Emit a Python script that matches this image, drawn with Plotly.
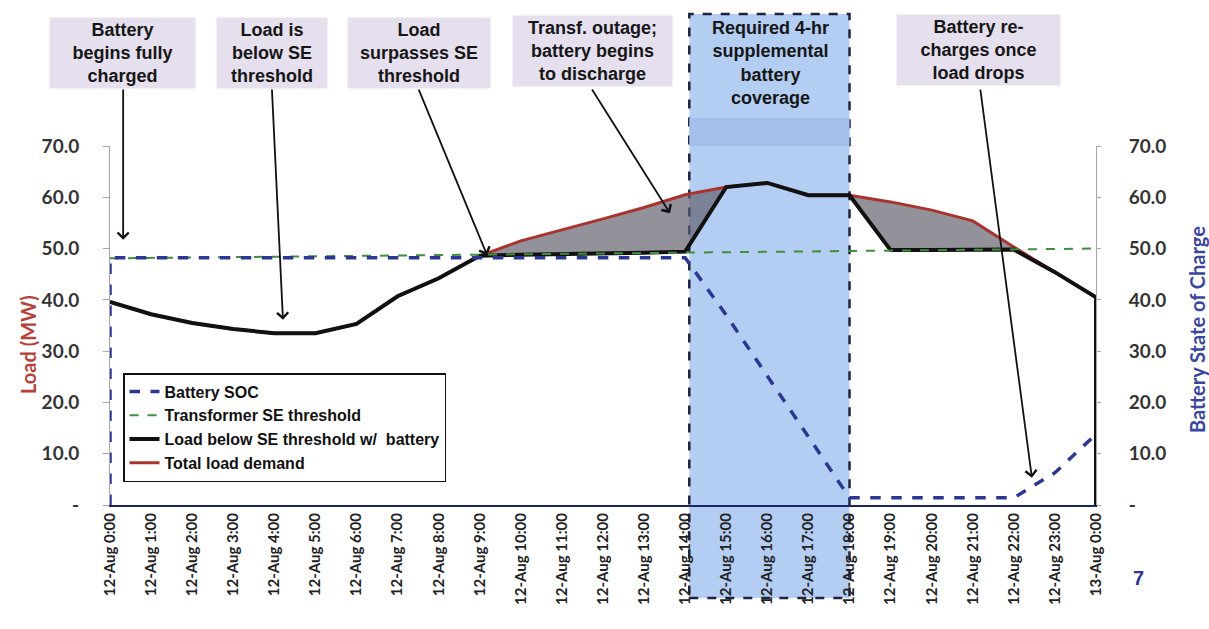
import plotly.graph_objects as go

# ---- data -------------------------------------------------------------
hours = list(range(25))
tick_labels = [
    "12-Aug 0:00", "12-Aug 1:00", "12-Aug 2:00", "12-Aug 3:00", "12-Aug 4:00",
    "12-Aug 5:00", "12-Aug 6:00", "12-Aug 7:00", "12-Aug 8:00", "12-Aug 9:00",
    "12-Aug 10:00", "12-Aug 11:00", "12-Aug 12:00", "12-Aug 13:00", "12-Aug 14:00",
    "12-Aug 15:00", "12-Aug 16:00", "12-Aug 17:00", "12-Aug 18:00", "12-Aug 19:00",
    "12-Aug 20:00", "12-Aug 21:00", "12-Aug 22:00", "12-Aug 23:00", "13-Aug 0:00",
]
total_load_mw = [39.6, 37.2, 35.5, 34.3, 33.5, 33.5, 35.3, 40.7, 44.2, 48.6,
                 51.5, 53.6, 55.8, 58.0, 60.5, 62.0, 62.8, 60.4, 60.4, 59.1,
                 57.5, 55.4, 50.3, 45.4, 40.5]
load_with_battery_mw = [39.6, 37.2, 35.5, 34.3, 33.5, 33.5, 35.3, 40.7, 44.2, 48.6,
                        48.8, 48.9, 49.0, 49.2, 49.4, 62.0, 62.8, 60.4, 60.4, 49.7,
                        49.7, 49.8, 49.8, 45.4, 40.5]
battery_soc = [48.2, 48.2, 48.2, 48.2, 48.2, 48.2, 48.2, 48.2, 48.2, 48.2,
               48.2, 48.2, 48.2, 48.2, 48.2, 37.0, 25.0, 13.3, 1.4, 1.4,
               1.4, 1.4, 1.4, 6.3, 13.8]
threshold_hours = [0, 24]
threshold_mw = [48.1, 50.0]
y_ticks = [0, 10, 20, 30, 40, 50, 60, 70]
y_tick_labels = ["-", "10.0", "20.0", "30.0", "40.0", "50.0", "60.0", "70.0"]
coverage_window = [14.1, 18.0]

# ---- styling ----------------------------------------------------------
RED = "#a9332e"
BLACK = "#111111"
GREEN = "#3f8f3c"
NAVY = "#2c3794"
FILL = "rgba(96,94,108,0.68)"
BOX = "#e6dfee"
TXT = "Liberation Sans"
NUM = "Lato"

# plot area in page pixels, used to place labels and callouts
PL, PR, PT, PB = 110, 1096, 146, 505


def px(xp):
    return (xp - PL) / (PR - PL)


def py(yp):
    return (PB - yp) / (PB - PT)


fig = go.Figure()

# grey band between total demand and the battery-limited load
fig.add_trace(go.Scatter(x=hours, y=load_with_battery_mw, mode="lines",
                         line=dict(width=0), showlegend=False, hoverinfo="skip"))
fig.add_trace(go.Scatter(x=hours, y=total_load_mw, mode="lines",
                         line=dict(width=0), fill="tonexty", fillcolor=FILL,
                         showlegend=False, hoverinfo="skip"))

fig.add_trace(go.Scatter(x=hours, y=total_load_mw, mode="lines",
                         line=dict(color=RED, width=3),
                         name="Total load demand", legendrank=4))
fig.add_trace(go.Scatter(x=hours + [hours[-1]], y=load_with_battery_mw + [0],
                         mode="lines", line=dict(color=BLACK, width=4),
                         cliponaxis=False,
                         name="Load below SE threshold w/  battery", legendrank=3))
fig.add_trace(go.Scatter(x=threshold_hours, y=threshold_mw, mode="lines",
                         line=dict(color=GREEN, width=2, dash="dash"),
                         name="Transformer SE threshold", legendrank=2))
fig.add_trace(go.Scatter(x=[hours[0]] + hours, y=[0] + battery_soc, mode="lines",
                         yaxis="y2", cliponaxis=False,
                         line=dict(color=NAVY, width=3.5, dash="dash"),
                         name="Battery SOC", legendrank=1))

# shaded supplemental-coverage window
fig.add_shape(type="rect", layer="below", xref="x", yref="paper",
              x0=coverage_window[0], x1=coverage_window[1],
              y0=py(598), y1=py(14),
              fillcolor="#b4cdf3", line=dict(color="#1d2340", width=2.5, dash="dash"))
fig.add_shape(type="rect", layer="below", xref="x", yref="paper",
              x0=coverage_window[0], x1=coverage_window[1],
              y0=py(146), y1=py(118),
              fillcolor="#a3bfea", line=dict(width=0))

annotations = []

callouts = [
    ("Battery<br>begins fully<br>charged", 122, 53, 145),
    ("Load is<br>below SE<br>threshold", 272, 53, 110),
    ("Load<br>surpasses SE<br>threshold", 419, 53, 142),
    ("Transf. outage;<br>battery begins<br>to discharge", 592, 51, 159),
    ("Battery re-<br>charges once<br>load drops", 978, 50, 163),
]
for text, cx, cy, w in callouts:
    annotations.append(dict(text=text, xref="paper", yref="paper", x=px(cx), y=py(cy),
                            xanchor="center", yanchor="middle", showarrow=False,
                            width=w, height=70, bgcolor=BOX, borderpad=0,
                            font=dict(family=TXT, size=18, color="#161616", weight="bold")))

annotations.append(dict(text="Required 4-hr<br>supplemental<br>battery<br>coverage",
                        xref="paper", yref="paper", x=px(770), y=py(63),
                        xanchor="center", yanchor="middle", showarrow=False,
                        font=dict(family=TXT, size=18, color="#161616", weight="bold")))

# pointer arrows: (tail hour, tail MW, tip hour, tip MW)
pointers = [
    (0.32, 81.3, 0.32, 51.7),
    (3.94, 81.3, 4.21, 36.1),
    (7.50, 81.3, 9.18, 48.7),
    (11.71, 81.3, 13.63, 56.9),
    (21.18, 81.3, 22.44, 5.3),
]
for ax, ay, x, y in pointers:
    annotations.append(dict(text="", xref="x", yref="y", axref="x", ayref="y",
                            x=x, y=y, ax=ax, ay=ay, showarrow=True,
                            arrowhead=4, arrowsize=1.2, arrowwidth=1.8,
                            arrowcolor=BLACK, standoff=0, startstandoff=0))

annotations.append(dict(text="Load (MW)", xref="paper", yref="paper",
                        x=px(28), y=py(345), textangle=-90, showarrow=False,
                        xanchor="center", yanchor="middle",
                        font=dict(family=NUM, size=20, color="#b5413a", weight="bold")))
annotations.append(dict(text="Battery State of Charge", xref="paper", yref="paper",
                        x=px(1197), y=py(330), textangle=-90, showarrow=False,
                        xanchor="center", yanchor="middle",
                        font=dict(family=NUM, size=20, color="#3a47a0", weight="bold")))
annotations.append(dict(text="7", xref="paper", yref="paper", x=px(1138), y=py(578),
                        showarrow=False, xanchor="center", yanchor="middle",
                        font=dict(family=TXT, size=20, color="#2b3590", weight="bold")))

tickfont_y = dict(family=NUM, size=19, color="#333333", weight="bold")

fig.update_layout(
    width=1209, height=629, autosize=False,
    margin=dict(l=PL, r=1209 - PR, t=PT, b=629 - PB),
    paper_bgcolor="white", plot_bgcolor="white",
    showlegend=True,
    legend=dict(x=px(123), y=py(373), xanchor="left", yanchor="top",
                traceorder="normal",
                bgcolor="white", bordercolor="#111111", borderwidth=1.5,
                font=dict(family=TXT, size=16, color="#111111", weight="bold"),
                tracegroupgap=0, itemwidth=30),
    xaxis=dict(range=[0, 24], tickmode="array", tickvals=hours, ticktext=tick_labels,
               tickangle=-90, showgrid=False, zeroline=False,
               showline=True, linecolor="#1c2566", linewidth=2, ticks="",
               tickfont=dict(family=NUM, size=15, color="#222222", weight="bold")),
    yaxis=dict(range=[0, 70], tickmode="array", tickvals=y_ticks, ticktext=y_tick_labels,
               showgrid=False, zeroline=False, showline=True, linecolor="#a6a6a6",
               linewidth=1, ticks="outside", ticklen=6, tickcolor="#a6a6a6",
               ticklabelstandoff=20, tickfont=tickfont_y),
    yaxis2=dict(range=[0, 70], tickmode="array", tickvals=y_ticks, ticktext=y_tick_labels,
                overlaying="y", side="right", showgrid=False, zeroline=False,
                showline=True, linecolor="#a6a6a6", linewidth=1, ticks="outside",
                ticklen=4, tickcolor="#a6a6a6", ticklabelstandoff=24,
                tickfont=tickfont_y),
    annotations=annotations,
)

fig.write_html("out.html")
